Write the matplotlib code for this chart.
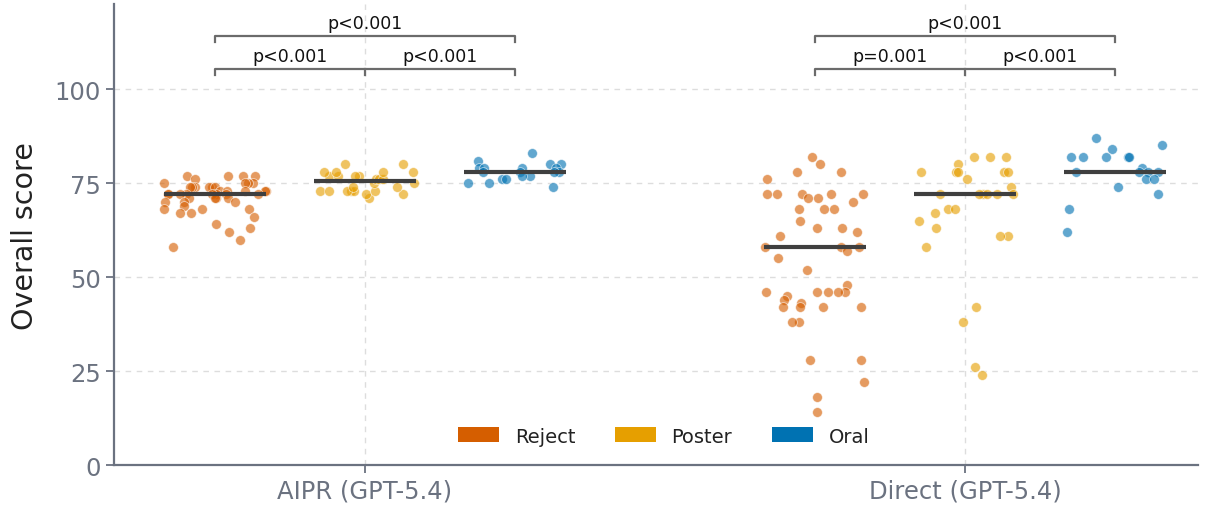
import matplotlib

matplotlib.use("Agg")
import matplotlib.pyplot as plt
import numpy as np
from matplotlib.patches import Patch

GROUPS = ["AIPR (GPT-5.4)", "Direct (GPT-5.4)"]
CATEGORIES = ["Reject", "Poster", "Oral"]
COLORS = {"Reject": "#D55E00", "Poster": "#E69F00", "Oral": "#0072B2"}

aipr_reject = [77, 77, 77, 77, 76, 75, 75, 75, 75, 74, 74, 74, 74, 74, 74, 73, 73, 73, 73, 73,
               72, 72, 72, 72, 72, 72, 72, 72, 71, 71, 71, 71, 70, 70, 70, 69, 68, 68, 68, 67,
               67, 66, 64, 63, 62, 60, 58]
aipr_poster = [71, 72, 72, 73, 73, 73, 73, 73, 73, 74, 74, 75, 75, 76, 76, 76, 77, 77, 77, 77,
               78, 78, 78, 78, 80, 80]
aipr_oral = [83, 81, 80, 80, 79, 79, 79, 79, 78, 78, 78, 78, 77, 77, 76, 76, 75, 75, 74]

direct_reject = [82, 80, 78, 78, 76, 72, 72, 72, 72, 72, 71, 71, 70, 68, 68, 68, 65, 63, 63, 62,
                 61, 58, 58, 58, 57, 55, 52, 48, 46, 46, 46, 46, 46, 45, 44, 43, 42, 42, 42, 42,
                 38, 38, 28, 28, 22, 18, 14]
direct_poster = [82, 82, 82, 80, 78, 78, 78, 78, 78, 76, 74, 72, 72, 72, 72, 72, 72, 68, 68, 67,
                 65, 63, 61, 61, 58, 42, 38, 26, 24]
direct_oral = [87, 85, 84, 82, 82, 82, 82, 82, 79, 78, 78, 78, 78, 76, 76, 74, 72, 68, 62]

SCORES = [
    [aipr_reject, aipr_poster, aipr_oral],
    [direct_reject, direct_poster, direct_oral],
]
# p-value labels: (Reject vs Poster, Poster vs Oral, Reject vs Oral)
P_LABELS = [
    ["p<0.001", "p<0.001", "p<0.001"],
    ["p=0.001", "p<0.001", "p<0.001"],
]

OFFSET = 0.25
JITTER = 0.085
HALF_MED = 0.085

plt.rcParams.update({"font.family": "DejaVu Sans"})

fig = plt.figure(figsize=(12.14, 5.10), dpi=100)
ax = fig.add_axes([0.094, 0.086, 0.893, 0.904])

rng = np.random.default_rng(7)
for gi, group in enumerate(GROUPS):
    for ci, cat in enumerate(CATEGORIES):
        vals = np.array(SCORES[gi][ci], dtype=float)
        center = gi + (ci - 1) * OFFSET
        xs = center + rng.uniform(-JITTER, JITTER, len(vals))
        ax.scatter(xs, vals, s=50, color=COLORS[cat], alpha=0.62,
                   edgecolor="white", linewidth=0.6, zorder=3)
        med = np.median(vals)
        ax.plot([center - HALF_MED, center + HALF_MED], [med, med],
                color="#3f3f3f", lw=3.0, solid_capstyle="butt", zorder=4)

    # significance brackets
    x_rej, x_pos, x_ora = gi - OFFSET, gi, gi + OFFSET
    low, high, tick = 105.3, 114.1, 1.5
    bc = "#6b6b6b"
    ax.plot([x_rej, x_rej, x_ora, x_ora], [low - tick, low, low, low - tick], color=bc, lw=1.6)
    ax.plot([x_pos, x_pos], [low - tick, low], color=bc, lw=1.6)
    ax.plot([x_rej, x_rej, x_ora, x_ora], [high - tick, high, high, high - tick], color=bc, lw=1.6)
    ax.text((x_rej + x_pos) / 2, low + 1.2, P_LABELS[gi][0], ha="center", va="bottom",
            fontsize=12.5, color="#111111")
    ax.text((x_pos + x_ora) / 2, low + 1.2, P_LABELS[gi][1], ha="center", va="bottom",
            fontsize=12.5, color="#111111")
    ax.text(gi, high + 1.2, P_LABELS[gi][2], ha="center", va="bottom",
            fontsize=12.5, color="#111111")

ax.set_xlim(-0.418, 1.388)
ax.set_ylim(0, 122.6)
ax.set_xticks(range(len(GROUPS)))
ax.set_xticklabels(GROUPS)
ax.set_yticks([0, 25, 50, 75, 100])
ax.set_ylabel("Overall score", fontsize=20.5, color="#222222", labelpad=11)

ax.grid(True, linestyle=(0, (4, 4)), color="#dddddd", lw=1.0, zorder=0)
ax.set_axisbelow(True)
for side in ["top", "right"]:
    ax.spines[side].set_visible(False)
for side in ["left", "bottom"]:
    ax.spines[side].set_color("#6b7280")
    ax.spines[side].set_linewidth(1.6)
ax.tick_params(colors="#6b7280", labelsize=17.5, length=6, width=1.3)

handles = [Patch(facecolor=COLORS[c], edgecolor="none", label=c) for c in CATEGORIES]
ax.legend(handles=handles, loc="center", bbox_to_anchor=(0.507, 0.063), ncol=3,
          frameon=False, fontsize=14, handlelength=2.1, handleheight=0.8,
          columnspacing=2.05, handletextpad=0.8, labelcolor="#222222")

fig.savefig("out.png", dpi=100)
